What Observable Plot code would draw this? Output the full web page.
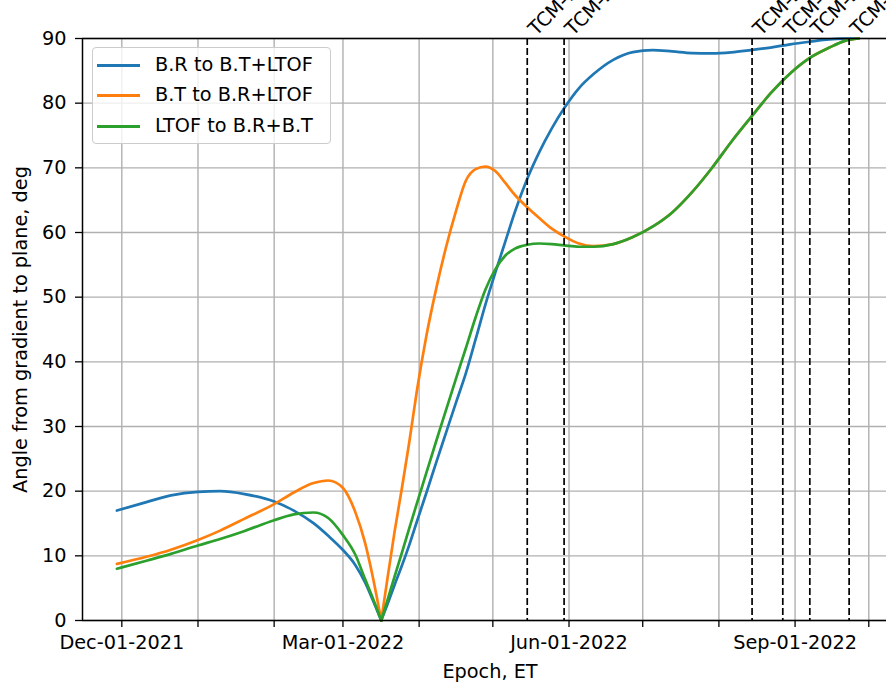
<!DOCTYPE html>
<html>
<head>
<meta charset="utf-8">
<script src="https://cdn.jsdelivr.net/npm/d3@7"></script>
<script src="https://cdn.jsdelivr.net/npm/@observablehq/plot@0.6"></script>
<style>
html, body { margin: 0; padding: 0; background: #fff; overflow: hidden; }
#wrap { position: relative; width: 886px; height: 684px; font-family: "DejaVu Sans", sans-serif; }
#wrap svg { position: absolute; left: 0; top: 0; }
.legend { position: absolute; left: 92px; top: 47px; width: 239px; height: 97px; box-sizing: border-box;
  border: 1px solid #cccccc; border-radius: 4px; background: rgba(255,255,255,0.8); }
.sw { position: absolute; left: 4px; width: 43px; height: 3px; }
.lt { position: absolute; left: 62px; font-size: 19.3px; line-height: 22.5px; white-space: nowrap; color: #000; }
</style>
</head>
<body>
<div id="wrap"></div>
<script>
// ---------- data ----------
const seriesNames = ["B.R to B.T+LTOF", "B.T to B.R+LTOF", "LTOF to B.R+B.T"];
const seriesColors = ["#1f77b4", "#ff7f0e", "#2ca02c"];

// before the common minimum
const preDates = ["2021-11-29", "2021-12-11", "2021-12-21", "2022-01-01", "2022-01-10", "2022-01-20",
  "2022-02-01", "2022-02-09", "2022-02-17", "2022-02-23", "2022-03-01", "2022-03-06", "2022-03-10",
  "2022-03-13", "2022-03-16T14:00"];
const bluePre   = [17.0, 18.3, 19.35, 19.9, 20.0, 19.55, 18.4, 17.0, 15.05, 13.1, 10.9, 8.6, 5.9, 3.3, 0];
const orangePre = [8.75, 9.85, 10.95, 12.45, 13.9, 15.75, 18.0, 19.8, 21.25, 21.65, 20.5, 16.8, 12.0, 7.0, 0];
const greenPre  = [8.0, 9.25, 10.3, 11.6, 12.6, 13.85, 15.5, 16.4, 16.7, 15.85, 13.2, 10.2, 6.4, 3.6, 0];

// after the common minimum
const postDates = ["2022-03-16T14:00", "2022-03-19", "2022-03-22", "2022-03-25", "2022-03-28", "2022-03-31",
  "2022-04-04", "2022-04-08", "2022-04-12", "2022-04-16", "2022-04-20", "2022-04-24", "2022-04-28",
  "2022-05-02", "2022-05-06", "2022-05-10", "2022-05-15", "2022-05-20", "2022-05-25", "2022-05-30",
  "2022-06-05", "2022-06-11", "2022-06-19", "2022-06-27", "2022-07-05", "2022-07-13", "2022-07-21",
  "2022-07-29", "2022-08-06", "2022-08-14", "2022-08-22", "2022-08-30", "2022-09-07", "2022-09-15",
  "2022-09-21", "2022-09-27"];
const bluePost   = [0, 2.4, 5.5, 8.5, 11.7, 15.2, 19.8, 24.5, 29.1, 33.7, 38.2, 43.5, 48.9, 53.8, 58.5, 63.2,
  68.3, 72.5, 76.1, 79.2, 82.3, 84.5, 86.7, 87.9, 88.2, 88.0, 87.75, 87.7, 87.85, 88.2, 88.6, 89.1, 89.5,
  89.85, 89.97, 90.0];
const orangePost = [0, 6.2, 13.7, 20.5, 27.6, 35.3, 44.1, 51.4, 57.8, 63.3, 68.0, 69.8, 70.2, 69.5, 67.7, 65.8,
  63.9, 62.2, 60.6, 59.4, 58.3, 57.9, 58.2, 59.3, 60.9, 63.1, 66.2, 69.9, 74.0, 77.8, 81.5, 84.6, 87.0,
  88.6, 89.6, 90.0];
const greenPost  = [0, 3.0, 6.8, 10.5, 14.3, 18.0, 22.9, 27.8, 32.6, 37.4, 42.1, 46.9, 51.2, 54.3, 56.4, 57.5,
  58.1, 58.3, 58.2, 58.0, 57.8, 57.8, 58.2, 59.3, 60.9, 63.1, 66.2, 69.9, 74.0, 77.8, 81.5, 84.6, 87.0,
  88.6, 89.6, 90.0];

const tcmDates  = ["2022-05-15", "2022-05-30", "2022-08-14T12:00", "2022-08-27", "2022-09-07", "2022-09-23"];
const tcmLabels = ["TCM-1", "TCM-2", "TCM-3", "TCM-4", "TCM-5", "TCM-6"];

const monthTicks = ["2021-12-01", "2022-01-01", "2022-02-01", "2022-03-01", "2022-04-01", "2022-05-01",
  "2022-06-01", "2022-07-01", "2022-08-01", "2022-09-01", "2022-10-01"];
const labeledMonths = [11, 2, 5, 8]; // Dec, Mar, Jun, Sep
const yTicks = [0, 10, 20, 30, 40, 50, 60, 70, 80, 90];
const xDomain = ["2021-11-15", "2022-10-08T05:00"];

// ---------- build ----------
const P = s => new Date(s + (s.length === 10 ? "T00:00Z" : "Z"));
const rows = [];
const pre = [bluePre, orangePre, greenPre];
const post = [bluePost, orangePost, greenPost];
seriesNames.forEach((name, i) => {
  preDates.forEach((d, j) => rows.push({series: name, key: name + "|a", date: P(d), value: pre[i][j]}));
  postDates.forEach((d, j) => rows.push({series: name, key: name + "|b", date: P(d), value: post[i][j]}));
});
const tcm = tcmDates.map((d, i) => ({date: P(d), label: tcmLabels[i]}));
const ticks = monthTicks.map(P);
const fmt = d3.utcFormat("%b-%d-%Y");
const FS = 19.3;

const chart = Plot.plot({
  width: 886, height: 684,
  marginTop: 38, marginBottom: 64, marginLeft: 82, marginRight: 0,
  style: {fontFamily: '"DejaVu Sans", sans-serif', fontSize: FS + "px", color: "#000", background: "transparent", overflow: "visible"},
  x: {type: "utc", domain: xDomain.map(P)},
  y: {domain: [0, 90]},
  color: {domain: seriesNames, range: seriesColors},
  marks: [
    Plot.gridX(ticks, {stroke: "#b0b0b0", strokeOpacity: 1, strokeWidth: 1.4}),
    Plot.gridY(yTicks, {stroke: "#b0b0b0", strokeOpacity: 1, strokeWidth: 1.4}),
    Plot.line(rows, {x: "date", y: "value", z: "key", stroke: "series", strokeWidth: 2.7, curve: "monotone-x"}),
    Plot.ruleX(tcm, {x: "date", stroke: "#000", strokeWidth: 1.7, strokeDasharray: "7,3"}),
    Plot.text(tcm, {x: "date", frameAnchor: "top", text: "label", rotate: -45, textAnchor: "start",
      lineAnchor: "bottom", dx: 9, dy: -2, fontSize: FS, fill: "#000"}),
    Plot.ruleY([0], {stroke: "#000", strokeWidth: 1.5}),
    Plot.ruleY([90], {stroke: "#000", strokeWidth: 1.5}),
    Plot.ruleX([P(xDomain[0])], {stroke: "#000", strokeWidth: 1.5}),
    Plot.axisY({ticks: yTicks, tickSize: 7, tickPadding: 9, label: null, fontSize: FS, stroke: "#000", strokeWidth: 1.3}),
    Plot.axisX({ticks, tickSize: 7, tickPadding: 8, label: null, fontSize: FS, stroke: "#000", strokeWidth: 1.3,
      tickFormat: d => labeledMonths.includes(d.getUTCMonth()) ? fmt(d) : ""}),
    Plot.text(["Epoch, ET"], {frameAnchor: "bottom", text: d => d, dx: 5.5, dy: 57, lineAnchor: "bottom", fontSize: FS, fill: "#000"}),
    Plot.text(["Angle from gradient to plane, deg"], {frameAnchor: "left", text: d => d, rotate: -90, dx: -62,
      textAnchor: "middle", lineAnchor: "middle", fontSize: FS, fill: "#000"})
  ]
});
const wrap = document.getElementById("wrap");
wrap.appendChild(chart);

// legend (HTML overlay inside the axes)
const lg = document.createElement("div");
lg.className = "legend";
const centers = [17, 47, 78];
seriesNames.forEach((name, i) => {
  const sw = document.createElement("div");
  sw.className = "sw";
  sw.style.top = (centers[i] - 1.5) + "px";
  sw.style.background = seriesColors[i];
  lg.appendChild(sw);
  const t = document.createElement("div");
  t.className = "lt";
  t.style.top = (centers[i] - 10.9) + "px";
  t.textContent = name;
  lg.appendChild(t);
});
wrap.appendChild(lg);
</script>
</body>
</html>
